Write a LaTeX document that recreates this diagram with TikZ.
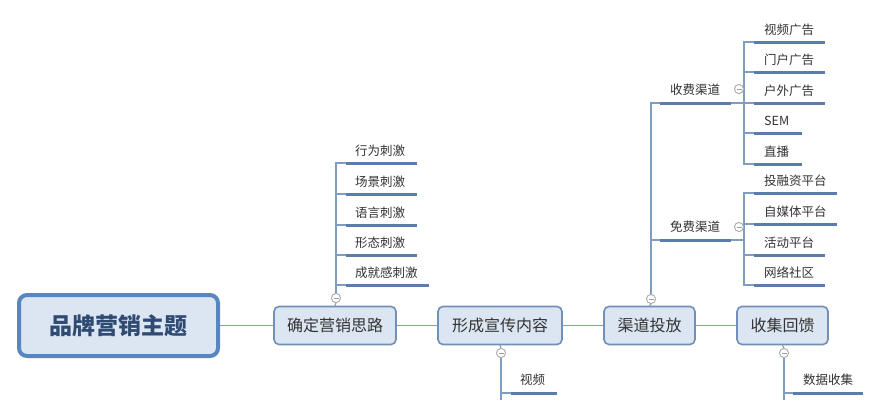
\documentclass[tikz,border=0pt]{standalone}
\usepackage{fontspec}
\setmainfont{Noto Sans CJK SC}
\definecolor{lnc}{HTML}{7F9CC2}
\definecolor{ulc}{HTML}{5B7DAB}
\definecolor{mainbd}{HTML}{5A86C0}
\definecolor{fillc}{HTML}{DCE6F2}
\definecolor{subbd}{HTML}{7190B8}
\definecolor{maintx}{HTML}{2F4A73}
\definecolor{txc}{HTML}{333333}
\begin{document}
\begin{tikzpicture}[x=1pt,y=-1pt,
  conn/.style={draw=lnc,line width=1.1pt},
  uline/.style={draw=ulc,line width=3pt},
  mainbox/.style={draw=mainbd,fill=fillc,line width=4pt,rounded corners=8pt,minimum width=199pt,minimum height=61pt,text=maintx,font=\fontsize{23}{26}\selectfont\bfseries},
  subbox/.style={draw=subbd,fill=fillc,line width=1.6pt,rounded corners=5pt,minimum height=38pt,text=txc,font=\fontsize{16}{18}\selectfont},
  leaf/.style={anchor=west,inner sep=0pt,text=txc,font=\fontsize{12.5}{14}\selectfont},
  collapse/.style={circle,draw=gray!65,fill=white,line width=0.8pt,minimum size=9pt,inner sep=0pt,
    path picture={\draw[gray!75,line width=0.8pt] ([xshift=-2.5pt]path picture bounding box.center) -- ([xshift=2.5pt]path picture bounding box.center);}}
]
\useasboundingbox (0,0) rectangle (881,400);
\fill[white] (0,0) rectangle (881,400);

% main nodes
\node[mainbox] (m) at (118.5,325.5) {品牌营销主题};
\node[subbox,minimum width=122pt] (n1) at (335,325.5) {确定营销思路};
\node[subbox,minimum width=124pt] (n2) at (500,325.5) {形成宣传内容};
\node[subbox,minimum width=91pt] (n3) at (649.5,325.5) {渠道投放};
\node[subbox,minimum width=91pt] (n4) at (782.5,325.5) {收集回馈};
\draw[conn] (m) -- (n1);
\draw[conn] (n1) -- (n2);
\draw[conn] (n2) -- (n3);
\draw[conn] (n3) -- (n4);

% collapse circles
\node[collapse] (c1) at (336,298) {};
\node[collapse] (c2) at (501,353) {};
\node[collapse] (c3) at (651,299) {};
\node[collapse] (c4) at (784,353) {};
\node[collapse] (cs1) at (739,89) {};
\node[collapse] (cs2) at (739,227) {};

% branch 1
\foreach \y/\e/\t [count=\i] in {163/417/行为刺激,194/417/场景刺激,225/417/语言刺激,255/417/形态刺激,285/429/成就感刺激}{
  \coordinate (a\i s) at (346,\y);
  \coordinate (a\i e) at (\e,\y);
  \draw[conn] (c1.north) |- (a\i s);
  \draw[uline] (a\i s) -- (a\i e);
  \node[leaf] (a\i) at (355,\y-12) {\t};
}

% branch 3: channels
\coordinate (p1s) at (660,103);
\coordinate (p1e) at (731,103);
\coordinate (p2s) at (660,240);
\coordinate (p2e) at (731,240);
\draw[conn] (c3.north) |- (p1s);
\draw[conn] (c3.north) |- (p2s);
\draw[uline] (p1s) -- (p1e);
\draw[uline] (p2s) -- (p2e);
\node[leaf] (p1) at (670,90) {收费渠道};
\node[leaf] (p2) at (670,227) {免费渠道};
\coordinate (v1) at (744,103);
\coordinate (v2) at (744,240);
\draw[conn] (p1e) -- (v1);
\draw[conn] (p2e) -- (v2);

\foreach \y/\e/\t [count=\i] in {42/825/视频广告,72/825/门户广告,103/825/户外广告,133/802/SEM,164/802/直播}{
  \coordinate (b\i s) at (754,\y);
  \coordinate (b\i e) at (\e,\y);
  \draw[conn] (v1) |- (b\i s);
  \draw[uline] (b\i s) -- (b\i e);
  \node[leaf] (b\i) at (764,\y-12) {\t};
}
\foreach \y/\e/\t [count=\i] in {193/837/投融资平台,224/837/自媒体平台,255/825/活动平台,285/825/网络社区}{
  \coordinate (f\i s) at (754,\y);
  \coordinate (f\i e) at (\e,\y);
  \draw[conn] (v2) |- (f\i s);
  \draw[uline] (f\i s) -- (f\i e);
  \node[leaf] (f\i) at (764,\y-12) {\t};
}

% bottom branches
\coordinate (d1s) at (511,393);
\coordinate (d1e) at (557,393);
\coordinate (d1x) at (501,400);
\draw[conn] (c2.south) -- (d1x);
\draw[conn] (c2.south) |- (d1s);
\draw[uline] (d1s) -- (d1e);
\node[leaf] (d1) at (520,380) {视频};
\coordinate (d2s) at (793,393);
\coordinate (d2e) at (863,393);
\coordinate (d2x) at (784,400);
\draw[conn] (c4.south) -- (d2x);
\draw[conn] (c4.south) |- (d2s);
\draw[uline] (d2s) -- (d2e);
\node[leaf] (d2) at (803,380) {数据收集};

% redraw circles on top
\foreach \c in {c1,c2,c3,c4,cs1,cs2}{\node[collapse] at (\c) {};}
\draw[conn] (n1.north) -- (c1.south);
\draw[conn] (n2.south) -- (c2.north);
\draw[conn] (n3.north) -- (c3.south);
\draw[conn] (n4.south) -- (c4.north);
\end{tikzpicture}
\end{document}
